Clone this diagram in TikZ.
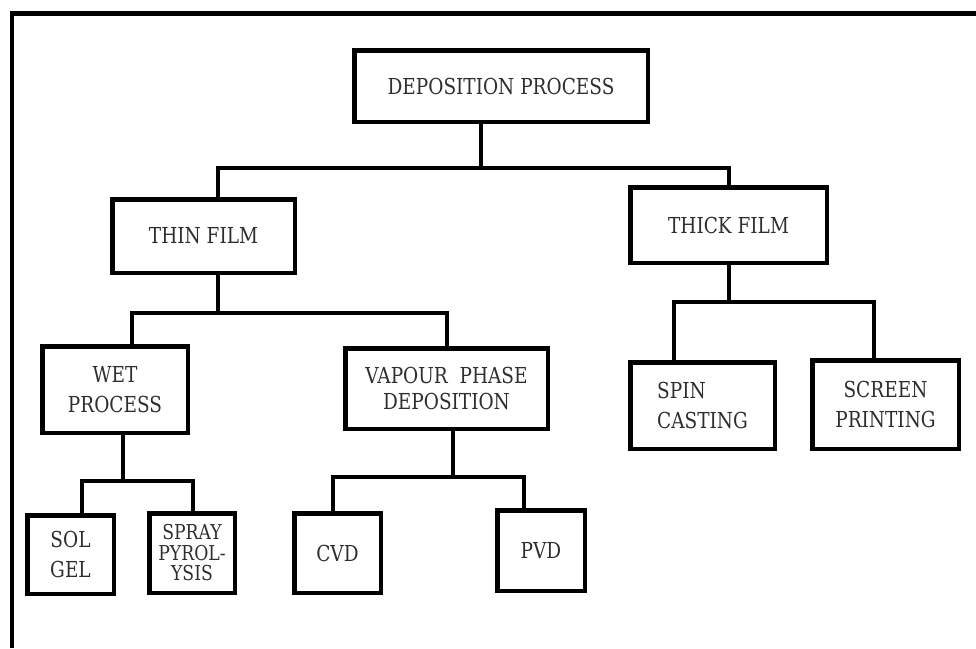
\documentclass[tikz,border=0pt]{standalone}
\usepackage{fontspec}
\usepackage{tikz}
\setmainfont{DejaVu Serif}[FakeStretch=0.84]
\definecolor{ink}{HTML}{2E2E2E}

\begin{document}
\begin{tikzpicture}[x=1pt,y=-1pt,
	box/.style={draw=black,line width=4.5pt,rectangle,inner sep=0pt,outer sep=0pt,
		align=center,text=ink,font=\fontsize{22}{30}\selectfont},
	link/.style={draw=black,line width=4pt,line join=miter},
	frame/.style={draw=black,line width=4.5pt}]
				\useasboundingbox (0,0) rectangle (976,648);
				\draw [frame] (12,648) |- (976,13.5);
				% boxes
				\node [box,minimum width=293.5pt,minimum height=71.5pt] (dep) at (501,86) {DEPOSITION PROCESS};
				\node [box,minimum width=182.5pt,minimum height=73.5pt] (thin) at (203.5,236) {THIN FILM};
				\node [box,minimum width=196.5pt,minimum height=75.5pt] (thick) at (728.5,225) {THICK FILM};
				\node [box,minimum width=145.5pt,minimum height=86.5pt] (wet) at (115,389.5) {WET\\PROCESS};
				\node [box,minimum width=202.5pt,minimum height=80.5pt,font=\fontsize{22}{26}\selectfont] (vpd) at (446.5,388.5) {VAPOUR~~PHASE\\DEPOSITION};
				\node [box,minimum width=144.5pt,minimum height=86.5pt,align=left] (spin) at (702.5,405.5) {SPIN\\CASTING};
				\node [box,minimum width=146.5pt,minimum height=88.5pt] (screen) at (885.5,404.5) {SCREEN\\PRINTING};
				\node [box,minimum width=86.5pt,minimum height=78.5pt] (sol) at (70.5,554.5) {SOL\\GEL};
				\node [box,minimum width=85.5pt,minimum height=79.5pt,font=\fontsize{20.5}{20.5}\selectfont] (spray) at (192,553) {SPRAY\\PYROL-\\YSIS};
				\node [box,minimum width=86.5pt,minimum height=79.5pt] (cvd) at (337.5,553) {CVD};
				\node [box,minimum width=87.5pt,minimum height=80.5pt] (pvd) at (541,550.5) {PVD};
				% junctions
				\coordinate (bus1) at (481,168);
				\coordinate (bus2) at (218,313);
				\coordinate (bus3) at (729,302);
				\coordinate (bus4) at (123,481);
				\coordinate (bus5) at (453,477);
				% links
				\draw [link] ([xshift=-20pt]dep.south) -- (bus1);
				\draw [link] ([xshift=14.5pt]thin.north) |- (bus1) -| ([xshift=0.5pt]thick.north);
				\draw [link] ([xshift=14.5pt]thin.south) -- (bus2);
				\draw [link] ([xshift=17pt]wet.north) |- (bus2) -| (vpd.north);
				\draw [link] ([xshift=0.5pt]thick.south) -- (bus3);
				\draw [link] ([xshift=-28.5pt]spin.north) |- (bus3) -| ([xshift=-11.5pt]screen.north);
				\draw [link] ([xshift=8pt]wet.south) -- (bus4);
				\draw [link] ([xshift=11.5pt]sol.north) |- (bus4) -| ([xshift=1pt]spray.north);
				\draw [link] ([xshift=6.5pt]vpd.south) -- (bus5);
				\draw [link] ([xshift=-4.5pt]cvd.north) |- (bus5) -| ([xshift=-17pt]pvd.north);
			\end{tikzpicture}
\end{document}
